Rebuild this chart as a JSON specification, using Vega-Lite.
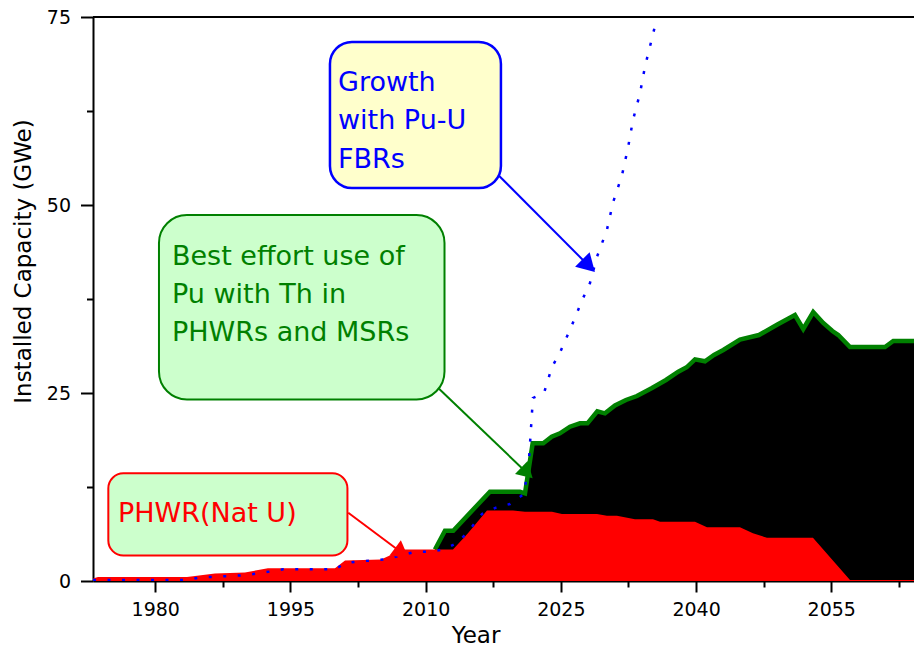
{
  "$schema": "https://vega.github.io/schema/vega-lite/v6.json",
  "width": 821,
  "height": 564,
  "autosize": {"type": "none"},
  "padding": {"left": 93, "top": 17, "right": 0, "bottom": 67},
  "background": "white",
  "config": {
    "view": {"stroke": null},
    "font": "DejaVu Sans",
    "axis": {
      "labelFont": "DejaVu Sans", "labelFontSize": 19, "labelColor": "black",
      "titleFont": "DejaVu Sans", "titleFontSize": 23, "titleFontWeight": "normal", "titleColor": "black",
      "domainColor": "black", "domainWidth": 2, "tickColor": "black", "tickWidth": 2,
      "grid": false, "zindex": 1, "labelFlush": false, "labelOverlap": false
    }
  },
  "datasets": {
    "total": [
      {"year": 2011.03, "gwe": 4.19}, {"year": 2012.14, "gwe": 6.69}, {"year": 2013.06, "gwe": 6.69},
      {"year": 2017.13, "gwe": 11.87}, {"year": 2020.46, "gwe": 11.87}, {"year": 2021.02, "gwe": 11.66},
      {"year": 2021.87, "gwe": 18.31}, {"year": 2023.05, "gwe": 18.31}, {"year": 2023.98, "gwe": 19.19},
      {"year": 2024.90, "gwe": 19.64}, {"year": 2026.01, "gwe": 20.52}, {"year": 2027.12, "gwe": 20.97},
      {"year": 2027.95, "gwe": 20.97}, {"year": 2029.04, "gwe": 22.57}, {"year": 2029.89, "gwe": 22.30},
      {"year": 2031.00, "gwe": 23.34}, {"year": 2032.22, "gwe": 24.07}, {"year": 2033.44, "gwe": 24.60},
      {"year": 2035.11, "gwe": 25.66}, {"year": 2036.66, "gwe": 26.73}, {"year": 2038.03, "gwe": 27.83},
      {"year": 2038.96, "gwe": 28.42}, {"year": 2039.88, "gwe": 29.48}, {"year": 2040.99, "gwe": 29.22},
      {"year": 2041.99, "gwe": 30.05}, {"year": 2043.02, "gwe": 30.72}, {"year": 2044.87, "gwe": 32.11},
      {"year": 2046.98, "gwe": 32.71}, {"year": 2049.03, "gwe": 34.11}, {"year": 2050.97, "gwe": 35.37},
      {"year": 2051.89, "gwe": 33.51}, {"year": 2053.00, "gwe": 35.77}, {"year": 2054.11, "gwe": 34.31},
      {"year": 2055.13, "gwe": 33.24}, {"year": 2055.78, "gwe": 32.71}, {"year": 2057.08, "gwe": 31.12},
      {"year": 2060.96, "gwe": 31.12}, {"year": 2061.88, "gwe": 31.91}, {"year": 2064.18, "gwe": 31.91}
    ],
    "phwr": [
      {"year": 1973.09, "gwe": 0.32}, {"year": 1973.64, "gwe": 0.53}, {"year": 1983.52, "gwe": 0.53},
      {"year": 1986.62, "gwe": 1.0}, {"year": 1989.95, "gwe": 1.13}, {"year": 1992.50, "gwe": 1.69},
      {"year": 1999.94, "gwe": 1.69}, {"year": 2001.05, "gwe": 2.73}, {"year": 2005.04, "gwe": 2.86},
      {"year": 2007.48, "gwe": 4.19}, {"year": 2013.03, "gwe": 4.19}, {"year": 2014.69, "gwe": 6.34},
      {"year": 2016.80, "gwe": 9.38}, {"year": 2019.69, "gwe": 9.38}, {"year": 2021.02, "gwe": 9.22},
      {"year": 2024.01, "gwe": 9.22}, {"year": 2025.12, "gwe": 8.91}, {"year": 2029.01, "gwe": 8.91},
      {"year": 2030.11, "gwe": 8.68}, {"year": 2031.22, "gwe": 8.68}, {"year": 2033.22, "gwe": 8.20},
      {"year": 2035.22, "gwe": 8.20}, {"year": 2036.00, "gwe": 7.89}, {"year": 2039.88, "gwe": 7.89},
      {"year": 2041.21, "gwe": 7.14}, {"year": 2044.87, "gwe": 7.14}, {"year": 2046.31, "gwe": 6.34},
      {"year": 2047.87, "gwe": 5.76}, {"year": 2052.97, "gwe": 5.76}, {"year": 2057.08, "gwe": 0.13},
      {"year": 2064.18, "gwe": 0.13}
    ],
    "fbr": [
      {"year": 1973.09, "gwe": 0.13}, {"year": 1983.52, "gwe": 0.13}, {"year": 1984.96, "gwe": 0.47},
      {"year": 1989.40, "gwe": 0.73}, {"year": 1991.39, "gwe": 1.0}, {"year": 1992.73, "gwe": 1.26},
      {"year": 1994.17, "gwe": 1.56}, {"year": 1999.94, "gwe": 1.56}, {"year": 2001.05, "gwe": 2.35},
      {"year": 2002.27, "gwe": 2.57}, {"year": 2005.60, "gwe": 2.89}, {"year": 2008.92, "gwe": 3.90},
      {"year": 2010.48, "gwe": 3.90}, {"year": 2012.03, "gwe": 4.22}, {"year": 2013.58, "gwe": 5.09},
      {"year": 2014.92, "gwe": 6.88}, {"year": 2016.25, "gwe": 8.91}, {"year": 2017.80, "gwe": 9.75},
      {"year": 2019.35, "gwe": 10.24}, {"year": 2020.91, "gwe": 11.57}, {"year": 2021.46, "gwe": 16.09},
      {"year": 2021.90, "gwe": 24.34}, {"year": 2023.13, "gwe": 25.0}, {"year": 2024.01, "gwe": 28.46},
      {"year": 2024.90, "gwe": 30.36}, {"year": 2026.23, "gwe": 34.04}, {"year": 2027.45, "gwe": 37.59},
      {"year": 2028.23, "gwe": 39.63}, {"year": 2029.01, "gwe": 43.12}, {"year": 2030.11, "gwe": 46.68},
      {"year": 2030.78, "gwe": 50.31}, {"year": 2031.78, "gwe": 53.95}, {"year": 2032.44, "gwe": 57.54},
      {"year": 2033.00, "gwe": 61.30}, {"year": 2033.78, "gwe": 64.85}, {"year": 2034.33, "gwe": 68.39},
      {"year": 2035.11, "gwe": 72.17}, {"year": 2035.55, "gwe": 74.34}
    ],
    "boxes": [
      {"box": "fbr", "year": 1999.38, "year2": 2018.35, "gwe": 71.68, "gwe2": 52.26},
      {"box": "pu", "year": 1980.41, "year2": 2012.09, "gwe": 48.67, "gwe2": 24.14},
      {"box": "nat", "year": 1974.79, "year2": 2001.32, "gwe": 14.32, "gwe2": 3.39}
    ],
    "labels": [
      {"box": "fbr", "line": "Growth", "year": 2000.27, "gwe": 65.16},
      {"box": "fbr", "line": "with Pu-U", "year": 2000.27, "gwe": 60.04},
      {"box": "fbr", "line": "FBRs", "year": 2000.27, "gwe": 54.92},
      {"box": "pu", "line": "Best effort use of", "year": 1981.85, "gwe": 42.02},
      {"box": "pu", "line": "Pu with Th in", "year": 1981.85, "gwe": 36.97},
      {"box": "pu", "line": "PHWRs and MSRs", "year": 1981.85, "gwe": 31.91},
      {"box": "nat", "line": "PHWR(Nat U)", "year": 1975.85, "gwe": 7.85}
    ],
    "arrows": [
      {"box": "fbr", "year": 2017.69, "gwe": 54.43, "year2": 2028.08, "gwe2": 41.93},
      {"box": "pu", "year": 2010.84, "gwe": 26.29, "year2": 2021.24, "gwe2": 14.37},
      {"box": "nat", "year": 2001.41, "gwe": 9.08, "year2": 2007.35, "gwe2": 3.75}
    ],
    "frame": [{"gwe": 75}]
  },
  "layer": [
    {
      "data": {"name": "total"},
      "mark": {"type": "area", "color": "black", "clip": true},
      "encoding": {
        "x": {"field": "year", "type": "quantitative",
          "scale": {"domain": [1973.09, 2064.18], "nice": false, "zero": false},
          "axis": {
            "title": "Year",
            "values": [1980, 1987.5, 1995, 2002.5, 2010, 2017.5, 2025, 2032.5, 2040, 2047.5, 2055, 2062.5],
            "format": "d",
            "labelExpr": "datum.value % 15 === 0 ? datum.label : ''",
            "labelFont": "DejaVu Sans", "labelFontSize": 19,
            "tickSize": {"condition": {"test": "datum.value % 15 === 0", "value": 11}, "value": 6},
            "labelPadding": 8,
            "titleX": 382.5, "titleY": 61, "titleAlign": "center", "titleBaseline": "alphabetic"
          }
        },
        "y": {"field": "gwe", "type": "quantitative",
          "scale": {"domain": [0, 75], "nice": false, "zero": false},
          "axis": {
            "title": "Installed Capacity (GWe)",
            "values": [0, 12.5, 25, 37.5, 50, 62.5, 75],
            "labelExpr": "datum.value % 25 === 0 ? datum.label : ''",
            "labelFont": "DejaVu Sans", "labelFontSize": 19,
            "tickSize": {"condition": {"test": "datum.value % 25 === 0", "value": 12.5}, "value": 6.5},
            "labelPadding": 10,
            "titleX": -70, "titleY": 244, "titleAngle": -90, "titleAlign": "center", "titleBaseline": "middle"
          }
        }
      }
    },
    {
      "data": {"name": "total"},
      "mark": {"type": "line", "color": "#008000", "strokeWidth": 4.5, "clip": true},
      "encoding": {
        "x": {"field": "year", "type": "quantitative", "scale": {"domain": [1973.09, 2064.18], "nice": false, "zero": false}},
        "y": {"field": "gwe", "type": "quantitative", "scale": {"domain": [0, 75], "nice": false, "zero": false}}
      }
    },
    {
      "data": {"name": "phwr"},
      "mark": {"type": "area", "color": "#FF0000", "clip": true},
      "encoding": {
        "x": {"field": "year", "type": "quantitative", "scale": {"domain": [1973.09, 2064.18], "nice": false, "zero": false}},
        "y": {"field": "gwe", "type": "quantitative", "scale": {"domain": [0, 75], "nice": false, "zero": false}}
      }
    },
    {
      "data": {"name": "fbr"},
      "mark": {"type": "line", "color": "#0000FF", "strokeWidth": 2.5, "strokeDash": [3, 11.5], "clip": true},
      "encoding": {
        "x": {"field": "year", "type": "quantitative", "scale": {"domain": [1973.09, 2064.18], "nice": false, "zero": false}},
        "y": {"field": "gwe", "type": "quantitative", "scale": {"domain": [0, 75], "nice": false, "zero": false}}
      }
    },
    {
      "data": {"name": "frame"},
      "mark": {"type": "rule", "color": "black", "strokeWidth": 2},
      "encoding": {
        "y": {"field": "gwe", "type": "quantitative", "scale": {"domain": [0, 75], "nice": false, "zero": false}}
      }
    },
    {
      "data": {"name": "arrows"},
      "mark": {"type": "rule", "strokeWidth": 2},
      "encoding": {
        "x": {"field": "year", "type": "quantitative", "scale": {"domain": [1973.09, 2064.18], "nice": false, "zero": false}},
        "y": {"field": "gwe", "type": "quantitative", "scale": {"domain": [0, 75], "nice": false, "zero": false}},
        "x2": {"field": "year2"},
        "y2": {"field": "gwe2"},
        "color": {"field": "box", "type": "nominal", "scale": {"domain": ["fbr", "pu", "nat"], "range": ["#0000FF", "#008000", "#FF0000"]}, "legend": null}
      }
    },
    {
      "data": {"name": "arrows"},
      "transform": [{"filter": "datum.box === 'fbr'"}],
      "mark": {"type": "point", "shape": "triangle-right", "filled": true, "opacity": 1, "size": 420, "angle": 45.1, "color": "#0000FF"},
      "encoding": {
        "x": {"field": "year2", "type": "quantitative", "scale": {"domain": [1973.09, 2064.18], "nice": false, "zero": false}},
        "y": {"field": "gwe2", "type": "quantitative", "scale": {"domain": [0, 75], "nice": false, "zero": false}}
      }
    },
    {
      "data": {"name": "arrows"},
      "transform": [{"filter": "datum.box === 'pu'"}],
      "mark": {"type": "point", "shape": "triangle-right", "filled": true, "opacity": 1, "size": 330, "angle": 43.7, "color": "#008000"},
      "encoding": {
        "x": {"field": "year2", "type": "quantitative", "scale": {"domain": [1973.09, 2064.18], "nice": false, "zero": false}},
        "y": {"field": "gwe2", "type": "quantitative", "scale": {"domain": [0, 75], "nice": false, "zero": false}}
      }
    },
    {
      "data": {"name": "arrows"},
      "transform": [{"filter": "datum.box === 'nat'"}],
      "mark": {"type": "point", "shape": "triangle-right", "filled": true, "opacity": 1, "size": 360, "angle": 36.8, "color": "#FF0000"},
      "encoding": {
        "x": {"field": "year2", "type": "quantitative", "scale": {"domain": [1973.09, 2064.18], "nice": false, "zero": false}},
        "y": {"field": "gwe2", "type": "quantitative", "scale": {"domain": [0, 75], "nice": false, "zero": false}}
      }
    },
    {
      "data": {"name": "boxes"},
      "transform": [{"filter": "datum.box === 'fbr'"}],
      "mark": {"type": "rect", "fill": "#FFFFCC", "stroke": "#0000FF", "strokeWidth": 2.5, "cornerRadius": 22},
      "encoding": {
        "x": {"field": "year", "type": "quantitative", "scale": {"domain": [1973.09, 2064.18], "nice": false, "zero": false}},
        "y": {"field": "gwe", "type": "quantitative", "scale": {"domain": [0, 75], "nice": false, "zero": false}},
        "x2": {"field": "year2"},
        "y2": {"field": "gwe2"}
      }
    },
    {
      "data": {"name": "boxes"},
      "transform": [{"filter": "datum.box === 'pu'"}],
      "mark": {"type": "rect", "fill": "#CCFFCC", "stroke": "#008000", "strokeWidth": 2, "cornerRadius": 28},
      "encoding": {
        "x": {"field": "year", "type": "quantitative", "scale": {"domain": [1973.09, 2064.18], "nice": false, "zero": false}},
        "y": {"field": "gwe", "type": "quantitative", "scale": {"domain": [0, 75], "nice": false, "zero": false}},
        "x2": {"field": "year2"},
        "y2": {"field": "gwe2"}
      }
    },
    {
      "data": {"name": "boxes"},
      "transform": [{"filter": "datum.box === 'nat'"}],
      "mark": {"type": "rect", "fill": "#CCFFCC", "stroke": "#FF0000", "strokeWidth": 2, "cornerRadius": 15},
      "encoding": {
        "x": {"field": "year", "type": "quantitative", "scale": {"domain": [1973.09, 2064.18], "nice": false, "zero": false}},
        "y": {"field": "gwe", "type": "quantitative", "scale": {"domain": [0, 75], "nice": false, "zero": false}},
        "x2": {"field": "year2"},
        "y2": {"field": "gwe2"}
      }
    },
    {
      "data": {"name": "labels"},
      "mark": {"type": "text", "align": "left", "baseline": "alphabetic", "font": "DejaVu Sans", "fontSize": 27},
      "encoding": {
        "x": {"field": "year", "type": "quantitative", "scale": {"domain": [1973.09, 2064.18], "nice": false, "zero": false}},
        "y": {"field": "gwe", "type": "quantitative", "scale": {"domain": [0, 75], "nice": false, "zero": false}},
        "text": {"field": "line"},
        "color": {"field": "box", "type": "nominal", "scale": {"domain": ["fbr", "pu", "nat"], "range": ["#0000FF", "#008000", "#FF0000"]}, "legend": null}
      }
    }
  ]
}
